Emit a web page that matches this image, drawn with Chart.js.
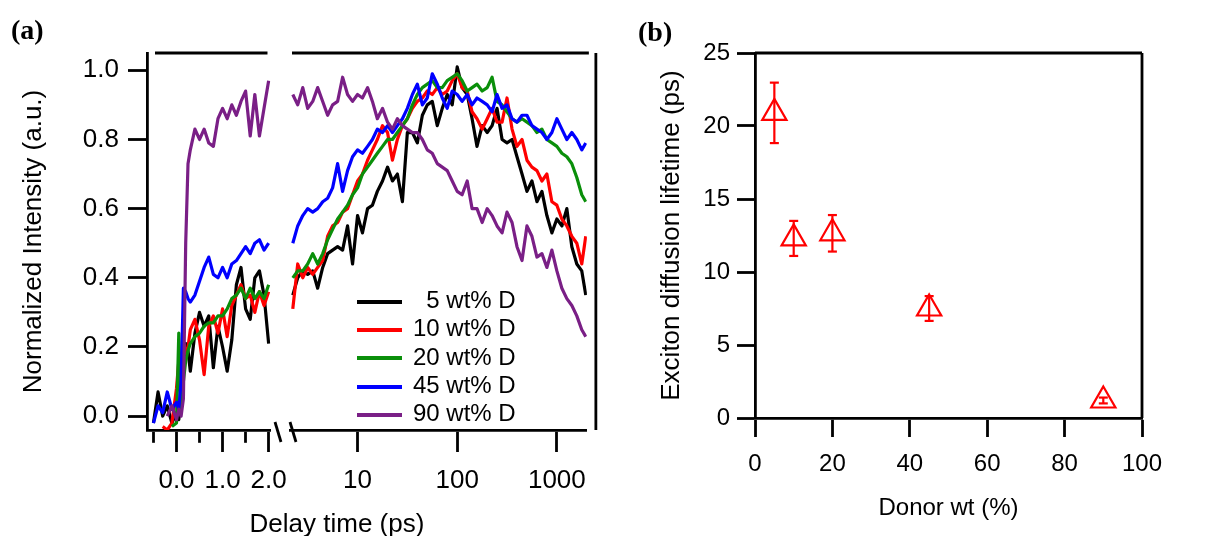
<!DOCTYPE html>
<html>
<head>
<meta charset="utf-8">
<script src="https://cdn.jsdelivr.net/npm/chart.js@4.4.1/dist/chart.umd.min.js"></script>
<style>
  html, body { margin: 0; padding: 0; background: #fff; }
  #wrap { position: relative; width: 1228px; height: 536px; overflow: hidden; background: #fff;
          font-family: 'Liberation Sans', Arial, sans-serif; color: #000; }
  canvas { position: absolute; top: 0; }
  #a1 { left: 0; }
  #a2 { left: 270px; }
  #b { left: 640px; }
  .panel { position: absolute; font: bold 28px 'Liberation Serif', 'Times New Roman', serif; line-height: 1; }
  #xtitleA { position: absolute; left: 337px; top: 523px; transform: translate(-50%, -50%);
             font-size: 26px; white-space: nowrap; }
  #legendA { position: absolute; left: 357px; top: 286px; font-size: 24px; line-height: 28.3px; white-space: pre; }
  #legendA .sw { display: inline-block; width: 45px; height: 4px; vertical-align: middle; margin-right: 11px; }
</style>
</head>
<body>
<div id="wrap">
  <canvas id="a1" width="300" height="536"></canvas>
  <canvas id="a2" width="330" height="536"></canvas>
  <canvas id="b" width="588" height="536"></canvas>
  <div class="panel" style="left:11px; top:16px">(a)</div>
  <div class="panel" style="left:638px; top:18px">(b)</div>
  <div id="xtitleA">Delay time (ps)</div>
  <div id="legendA"></div>
</div>
<script>
// Panel (a): delay times, linear part (ps) and log part (ps)
const timesLin = [-0.5, -0.4, -0.3, -0.2, -0.1, 0.0, 0.05, 0.1, 0.15, 0.2, 0.25, 0.3, 0.4, 0.5, 0.6,
  0.7, 0.8, 0.9, 1.0, 1.1, 1.2, 1.3, 1.4, 1.5, 1.6, 1.7, 1.8, 1.9, 2.0];
const timesLog = [2.24, 2.51, 2.82, 3.16, 3.55, 3.98, 4.47, 5.01, 5.62, 6.31, 7.08, 7.94, 8.91, 10,
  11.2, 12.6, 14.1, 15.8, 17.8, 20.0, 22.4, 25.1, 28.2, 31.6, 35.5, 39.8, 44.7, 50.1, 56.2, 63.1,
  70.8, 79.4, 89.1, 100, 112, 126, 141, 158, 178, 200, 224, 251, 282, 316, 355, 398, 447, 501,
  562, 631, 708, 794, 891, 1000, 1122, 1259, 1413, 1585, 1778, 1950];

// Normalized intensity, one pair of arrays per blend
const wt5Lin = [-0.02, 0.07, 0.00, 0.03, -0.02, 0.01, -0.01, 0.05, 0.12, 0.21, 0.19, 0.13, 0.24, 0.30,
  0.26, 0.29, 0.14, 0.26, 0.20, 0.13, 0.22, 0.38, 0.43, 0.31, 0.28, 0.40, 0.42, 0.35, 0.21];
const wt5Log = [0.35, 0.40, 0.42, 0.41, 0.42, 0.37, 0.43, 0.47, 0.48, 0.49, 0.48, 0.55, 0.44, 0.58,
  0.53, 0.60, 0.61, 0.65, 0.68, 0.72,
  0.68, 0.70, 0.62, 0.82, 0.82, 0.79, 0.87, 0.90, 0.91, 0.84, 0.89, 0.93, 0.90, 1.01, 0.95, 0.93,
  0.86, 0.78, 0.84,
  0.82, 0.84, 0.89, 0.80, 0.79, 0.80, 0.75, 0.70, 0.65, 0.68, 0.62, 0.65, 0.58, 0.53, 0.57, 0.55,
  0.60, 0.49, 0.44, 0.42, 0.35];

const wt10Lin = [null, null, -0.03, -0.04, -0.02, 0.08, 0.16, 0.12, 0.22, 0.18, 0.20, 0.25, 0.28, 0.22,
  0.12, 0.26, 0.29, 0.24, 0.31, 0.23, 0.32, 0.35, 0.38, 0.34, 0.35, 0.30, 0.36, 0.32, 0.36];
const wt10Log = [0.31, 0.44, 0.40, 0.43, 0.41, 0.43, 0.45, 0.52, 0.55, 0.56, 0.59, 0.60, 0.64, 0.68,
  0.70, 0.74, 0.77, 0.80, 0.84, 0.82,
  0.74, 0.80, 0.84, 0.86, 0.89, 0.91, 0.92, 0.94, 0.93, 0.95, 0.93, 0.94, 0.97, 0.99, 0.95, 0.94,
  0.88, 0.86, 0.83,
  0.86, 0.89, 0.85, 0.85, 0.92, 0.83, 0.78, 0.80, 0.74, 0.72, 0.71, 0.68, 0.70, 0.62, 0.61, 0.57,
  0.55, 0.52, 0.50, 0.44, 0.52];

const wt20Lin = [null, null, null, null, -0.03, -0.02, 0.24, 0.02, 0.10, 0.16, 0.19, 0.21, 0.23, 0.24,
  0.26, 0.27, 0.27, 0.29, 0.29, 0.31, 0.34, 0.35, 0.37, 0.34, 0.37, 0.34, 0.36, 0.34, 0.38];
const wt20Log = [0.40, 0.42, 0.42, 0.44, 0.47, 0.44, 0.47, 0.51, 0.54, 0.57, 0.59, 0.61, 0.64, 0.66,
  0.70, 0.72, 0.74, 0.76, 0.78, 0.80,
  0.80, 0.82, 0.84, 0.86, 0.90, 0.93, 0.95, 0.96, 0.97, 0.95, 0.95, 0.97, 0.98, 0.99, 0.97, 0.94,
  0.95, 0.96, 0.94,
  0.95, 0.98, 0.91, 0.90, 0.88, 0.86, 0.85, 0.86, 0.85, 0.84, 0.82, 0.83, 0.80, 0.79, 0.78, 0.76,
  0.75, 0.73, 0.69, 0.64, 0.62];

const wt45Lin = [-0.02, 0.03, 0.01, 0.07, 0.02, 0.04, 0.02, 0.10, 0.37, 0.36, 0.34, 0.33, 0.35, 0.39,
  0.43, 0.46, 0.41, 0.40, 0.43, 0.40, 0.44, 0.45, 0.47, 0.49, 0.47, 0.50, 0.51, 0.48, 0.50];
const wt45Log = [0.50, 0.55, 0.58, 0.60, 0.59, 0.60, 0.62, 0.63, 0.66, 0.73, 0.65, 0.71, 0.75, 0.77,
  0.76, 0.78, 0.80, 0.83, 0.82, 0.84,
  0.82, 0.84, 0.86, 0.89, 0.93, 0.96, 0.90, 0.92, 0.99, 0.96, 0.92, 0.89, 0.94, 0.93, 0.91, 0.93,
  0.90, 0.92, 0.91,
  0.90, 0.88, 0.93, 0.89, 0.90, 0.86, 0.85, 0.87, 0.87, 0.84, 0.83, 0.82, 0.80, 0.82, 0.86, 0.83,
  0.80, 0.82, 0.80, 0.77, 0.79];

const wt90Lin = [null, null, null, 0.00, 0.03, -0.01, 0.02, 0.00, 0.05, 0.50, 0.73, 0.77, 0.83, 0.80,
  0.83, 0.79, 0.78, 0.86, 0.89, 0.86, 0.90, 0.87, 0.91, 0.94, 0.81, 0.93, 0.81, 0.89, 0.97];
const wt90Log = [0.93, 0.90, 0.95, 0.89, 0.91, 0.95, 0.91, 0.87, 0.90, 0.91, 0.98, 0.93, 0.91, 0.93,
  0.92, 0.95, 0.91, 0.86, 0.89, 0.85,
  0.83, 0.86, 0.84, 0.83, 0.82, 0.82, 0.80, 0.77, 0.76, 0.73, 0.72, 0.71, 0.68, 0.65, 0.64, 0.68,
  0.60, 0.60, 0.56,
  0.60, 0.58, 0.55, 0.53, 0.59, 0.56, 0.49, 0.45, 0.55, 0.52, 0.46, 0.47, 0.43, 0.48, 0.42, 0.37,
  0.34, 0.32, 0.29, 0.25, 0.23];

const seriesLabels = ['\u20075 wt% D', '10 wt% D', '20 wt% D', '45 wt% D', '90 wt% D'];
const seriesColors = ['#000000', '#ff0000', '#0a8f0a', '#0000ff', '#7a1f86'];

const linTicks = [-0.5, 0, 0.5, 1.0, 1.5, 2.0];
const linLabelled = [0, 1.0, 2.0];
const logTicks = [10, 100, 1000];
const yTicksA = [0, 0.2, 0.4, 0.6, 0.8, 1.0];

// Panel (b)
const donorWt = [5, 10, 20, 45, 90];
const lifetime = [20.9, 12.3, 12.65, 7.5, 1.2];
const lifetimeErr = [2.07, 1.2, 1.25, 0.85, 0.2];
const xTicksB = [0, 20, 40, 60, 80, 100];
const yTicksB = [0, 5, 10, 15, 20, 25];

Chart.defaults.font.family = "'Liberation Sans', Arial, sans-serif";
Chart.defaults.color = '#000';

// extra frame lines (top edge, detached right edge, axis break marks)
const frameLines = {
  id: 'frameLines',
  afterDraw(chart, args, opts) {
    const a = chart.chartArea;
    const ctx = chart.ctx;
    ctx.save();
    ctx.strokeStyle = '#000';
    ctx.lineWidth = 2.8;
    if (opts.top) {
      ctx.beginPath();
      ctx.moveTo(a.left + opts.top[0], a.top);
      ctx.lineTo(a.right + opts.top[1], a.top);
      ctx.stroke();
    }
    if (opts.right !== undefined) {
      ctx.beginPath();
      ctx.moveTo(a.right + opts.right, a.top);
      ctx.lineTo(a.right + opts.right, a.bottom);
      ctx.stroke();
    }
    (opts.slashes || []).forEach(dx => {
      ctx.beginPath();
      ctx.moveTo(a.left + dx, a.bottom - 8);
      ctx.lineTo(a.left + dx + 6, a.bottom + 12);
      ctx.stroke();
    });
    ctx.restore();
  }
};

const axisLine = { display: true, color: '#000', width: 2.8 };
const tickFontA = { size: 26 };

function traceSets(times, columns) {
  return columns.map((vals, i) => ({
    label: seriesLabels[i],
    data: times.map((t, k) => ({ x: t, y: vals[k] })),
    borderColor: seriesColors[i],
    borderWidth: 3.2,
    borderJoinStyle: 'round',
    pointRadius: 0,
    tension: 0,
    spanGaps: false,
    order: columns.length - 1 - i
  }));
}

const yRangeA = { min: -0.04, max: 1.05 };

// (a) left part: linear time axis
new Chart(document.getElementById('a1'), {
  type: 'line',
  data: { datasets: traceSets(timesLin, [wt5Lin, wt10Lin, wt20Lin, wt45Lin, wt90Lin]) },
  plugins: [frameLines],
  options: {
    responsive: false, animation: false, events: [], devicePixelRatio: 1,
    layout: { autoPadding: false, padding: { top: 53, right: 19, left: 0, bottom: 0 } },
    plugins: {
      legend: { display: false }, tooltip: { enabled: false },
      frameLines: { top: [8, -3] }
    },
    scales: {
      x: {
        type: 'linear', min: -0.64, max: 2.04,
        afterFit: s => { s.height = 106; },
        afterBuildTicks: s => { s.ticks = linTicks.map(v => ({ value: v })); },
        ticks: {
          autoSkip: false, maxRotation: 0, padding: 13, font: tickFontA,
          callback: v => linLabelled.some(m => Math.abs(m - v) < 1e-6) ? v.toFixed(1) : ''
        },
        grid: {
          drawOnChartArea: false, tickLength: 22, tickWidth: 2.8, tickColor: '#000',
          tickBorderDash: c => (c.tick && !linLabelled.some(m => Math.abs(m - c.tick.value) < 1e-6)) ? [11, 100] : []
        },
        border: axisLine
      },
      y: {
        min: yRangeA.min, max: yRangeA.max,
        afterFit: s => { s.width = 147; },
        afterBuildTicks: s => { s.ticks = yTicksA.map(v => ({ value: v })); },
        ticks: { padding: 9, font: tickFontA, callback: v => v.toFixed(1) },
        grid: { drawOnChartArea: false, tickLength: 19, tickWidth: 2.8, tickColor: '#000' },
        border: axisLine,
        title: {
          display: true, text: 'Normalized Intensity (a.u.)', font: { size: 26 },
          padding: { top: 18.4, bottom: 0 }
        }
      }
    }
  }
});

// (a) right part: logarithmic time axis
const chartA2 = new Chart(document.getElementById('a2'), {
  type: 'line',
  data: { datasets: traceSets(timesLog, [wt5Log, wt10Log, wt20Log, wt45Log, wt90Log]) },
  plugins: [frameLines],
  options: {
    responsive: false, animation: false, events: [], devicePixelRatio: 1,
    layout: { autoPadding: false, padding: { top: 53, right: 12, left: 20, bottom: 0 } },
    plugins: {
      legend: { display: false }, tooltip: { enabled: false },
      frameLines: { top: [2, 2], right: 9, slashes: [-15, 0] }
    },
    scales: {
      x: {
        type: 'logarithmic', min: 2.1, max: 2000,
        afterFit: s => { s.height = 106; },
        afterBuildTicks: s => { s.ticks = logTicks.map(v => ({ value: v })); },
        ticks: { autoSkip: false, maxRotation: 0, padding: 13, font: tickFontA, callback: v => String(v) },
        grid: { drawOnChartArea: false, tickLength: 22, tickWidth: 2.8, tickColor: '#000' },
        border: axisLine
      },
      y: { display: false, min: yRangeA.min, max: yRangeA.max }
    }
  }
});

// legend for panel (a), built from the datasets
const legendA = document.getElementById('legendA');
legendA.innerHTML = chartA2.data.datasets.map(d =>
  `<div><span class="sw" style="background:${d.borderColor}"></span>${d.label}</div>`).join('');

// (b) exciton diffusion lifetime vs donor content
const errData = [];
donorWt.forEach((x, i) => {
  errData.push({ x, y: lifetime[i] - lifetimeErr[i] }, { x, y: lifetime[i] + lifetimeErr[i] }, { x, y: null });
});

new Chart(document.getElementById('b'), {
  type: 'scatter',
  data: {
    datasets: [
      {
        label: 'lifetime',
        data: donorWt.map((x, i) => ({ x, y: lifetime[i] })),
        pointStyle: 'triangle', pointRadius: 14, pointBorderWidth: 2.2,
        pointBorderColor: '#ff0000', pointBackgroundColor: 'rgba(0,0,0,0)',
        borderColor: '#ff0000'
      },
      {
        label: 'error',
        data: errData,
        showLine: true, spanGaps: false,
        borderColor: '#ff0000', borderWidth: 2.2,
        pointStyle: 'line', pointRadius: 4.5, pointBorderWidth: 2.2, pointBorderColor: '#ff0000'
      }
    ]
  },
  plugins: [frameLines],
  options: {
    responsive: false, animation: false, events: [], devicePixelRatio: 1,
    layout: { autoPadding: false, padding: { top: 53, right: 86, left: 0, bottom: 0 } },
    plugins: {
      legend: { display: false }, tooltip: { enabled: false },
      frameLines: { top: [0, 0], right: 0 }
    },
    scales: {
      x: {
        type: 'linear', min: 0, max: 100,
        afterFit: s => { s.height = 118; },
        afterBuildTicks: s => { s.ticks = xTicksB.map(v => ({ value: v })); },
        ticks: { autoSkip: false, maxRotation: 0, padding: 13, font: { size: 24 } },
        grid: { drawOnChartArea: false, tickLength: 19, tickWidth: 2.8, tickColor: '#000' },
        border: axisLine,
        title: { display: true, text: 'Donor wt (%)', font: { size: 24 }, padding: { top: 0, bottom: 13.6 } }
      },
      y: {
        min: 0, max: 25,
        afterFit: s => { s.width = 115; },
        afterBuildTicks: s => { s.ticks = yTicksB.map(v => ({ value: v })); },
        ticks: { padding: 7, font: { size: 24 } },
        grid: { drawOnChartArea: false, tickLength: 18, tickWidth: 2.8, tickColor: '#000' },
        border: axisLine,
        title: {
          display: true, text: 'Exciton diffusion lifetime (ps)', font: { size: 26 },
          padding: { top: 16.4, bottom: 0 }
        }
      }
    }
  }
});
</script>
</body>
</html>
